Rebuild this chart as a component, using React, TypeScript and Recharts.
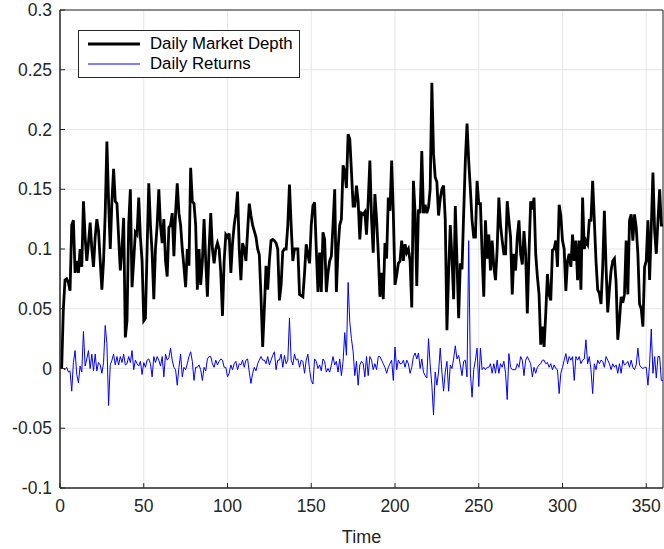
import { CartesianGrid, Line, LineChart, ReferenceArea, XAxis, YAxis } from "recharts";

const depth = [
  0, 0.05, 0.074, 0.075, 0.072, 0.065, 0.12, 0.124, 0.08, 0.09,
  0.08, 0.1, 0.085, 0.14, 0.11, 0.09, 0.105, 0.122, 0.1, 0.085,
  0.11, 0.125, 0.115, 0.09, 0.066, 0.09, 0.13, 0.19, 0.14, 0.1,
  0.14, 0.167, 0.14, 0.138, 0.11, 0.082, 0.1, 0.126, 0.026, 0.04,
  0.12, 0.15, 0.068, 0.09, 0.114, 0.112, 0.143, 0.11, 0.09, 0.04,
  0.042, 0.1, 0.155, 0.12, 0.097, 0.058, 0.1, 0.12, 0.15, 0.12,
  0.105, 0.125, 0.09, 0.077, 0.118, 0.12, 0.13, 0.094, 0.13, 0.155,
  0.13, 0.12, 0.1, 0.085, 0.068, 0.1, 0.086, 0.168, 0.14, 0.138,
  0.12, 0.066, 0.1, 0.07, 0.09, 0.125, 0.09, 0.06, 0.1, 0.13,
  0.1, 0.088, 0.1, 0.105, 0.1, 0.08, 0.044, 0.09, 0.112, 0.11,
  0.113, 0.08, 0.105, 0.12, 0.13, 0.148, 0.1, 0.074, 0.105, 0.1,
  0.09, 0.115, 0.138, 0.128, 0.12, 0.115, 0.11, 0.1, 0.095, 0.06,
  0.018, 0.05, 0.086, 0.066, 0.09, 0.107, 0.108, 0.107, 0.105, 0.1,
  0.057, 0.07, 0.098, 0.1, 0.1, 0.12, 0.154, 0.12, 0.09, 0.1,
  0.1, 0.1, 0.062, 0.061, 0.06, 0.08, 0.104, 0.095, 0.088, 0.12,
  0.136, 0.139, 0.1, 0.064, 0.097, 0.064, 0.114, 0.108, 0.064, 0.08,
  0.09, 0.094, 0.12, 0.15, 0.064, 0.1, 0.12, 0.125, 0.17, 0.165,
  0.151, 0.196, 0.192, 0.165, 0.136, 0.136, 0.153, 0.14, 0.108, 0.13,
  0.129, 0.131, 0.112, 0.14, 0.174, 0.125, 0.097, 0.146, 0.125, 0.097,
  0.06, 0.08, 0.058, 0.105, 0.092, 0.143, 0.132, 0.174, 0.13, 0.07,
  0.078, 0.088, 0.09, 0.107, 0.09, 0.104, 0.097, 0.1, 0.09, 0.051,
  0.157, 0.13, 0.069, 0.133, 0.13, 0.182, 0.13, 0.137, 0.13, 0.135,
  0.15, 0.239, 0.18, 0.16, 0.156, 0.128, 0.142, 0.15, 0.153, 0.125,
  0.032, 0.08, 0.12, 0.093, 0.058, 0.136, 0.09, 0.042, 0.088, 0.083,
  0.13, 0.174, 0.205, 0.174, 0.15, 0.124, 0.11, 0.11, 0.157, 0.138,
  0.138, 0.096, 0.06, 0.124, 0.092, 0.112, 0.082, 0.107, 0.085, 0.074,
  0.1, 0.143, 0.12, 0.107, 0.096, 0.096, 0.14, 0.124, 0.11, 0.062,
  0.096, 0.082, 0.11, 0.124, 0.096, 0.087, 0.115, 0.096, 0.046, 0.096,
  0.14, 0.133, 0.143, 0.096, 0.077, 0.062, 0.02, 0.035, 0.018, 0.046,
  0.079, 0.062, 0.057, 0.099, 0.1, 0.107, 0.085, 0.137, 0.128, 0.107,
  0.1, 0.065, 0.09, 0.096, 0.085, 0.112, 0.09, 0.107, 0.074, 0.107,
  0.066, 0.143, 0.1, 0.107, 0.104, 0.124, 0.124, 0.157, 0.124, 0.09,
  0.066, 0.063, 0.054, 0.085, 0.132, 0.085, 0.047, 0.066, 0.082, 0.09,
  0.092, 0.072, 0.024, 0.04, 0.06, 0.055, 0.062, 0.107, 0.062, 0.124,
  0.129, 0.107, 0.129, 0.118, 0.096, 0.054, 0.05, 0.035, 0.085, 0.09,
  0.124, 0.074, 0.118, 0.164, 0.115, 0.096, 0.124, 0.15, 0.12, 0.12,
];

const returns = [
  0, 0, -0.001, 0.001, -0.003, -0.002, -0.019, 0.005, 0.015, -0.005,
  -0.012, 0.002, -0.003, 0.031, 0.002, 0.008, 0.015, 0, 0.012, -0.002,
  0.012, -0.002, 0.005, 0.003, -0.004, 0.005, 0.036, 0.021, -0.031, 0.003,
  0.007, 0.012, 0.003, 0.01, 0.003, 0.01, 0.005, 0.012, 0.003, 0.004,
  0.01, 0.005, 0.015, -0.001, 0.007, 0.004, 0.002, 0.006, -0.005, 0.005,
  0.001, 0.007, 0.008, 0.004, -0.007, 0.01, 0.005, 0.01, 0.007, 0.002,
  0.01, -0.007, 0.012, 0.007, 0.009, 0.017, 0.007, 0.001, -0.001, -0.014,
  0.001, 0.012, -0.007, 0.001, -0.001, 0.004, 0.01, 0.014, 0.006, -0.01,
  0.001, 0.001, 0.003, -0.001, -0.01, 0.001, -0.002, 0.008, 0.01, 0.01,
  0.004, 0.001, 0.007, 0.003, 0.006, 0.008, 0.007, 0.001, 0.001, -0.007,
  -0.004, 0.003, -0.001, 0.004, 0.006, -0.001, 0.004, 0.003, 0.007, 0.001,
  0.007, 0.008, -0.003, -0.0125, -0.004, 0.001, -0.002, 0.004, 0.007, 0.01,
  0.007, 0.007, 0.004, 0.01, 0.003, 0.007, 0.011, 0.014, -0.001, 0.007,
  0.007, 0.012, 0.001, 0.011, 0.004, 0.007, 0.042, 0.007, 0.003, 0.012,
  0.007, 0.008, 0.001, 0.007, 0.006, -0.004, 0.007, 0.012, -0.001, -0.01,
  -0.013, 0.008, 0.006, 0, 0.003, -0.002, 0.008, 0.006, -0.003, 0,
  -0.003, 0.003, 0.01, 0.003, 0.006, -0.003, 0.008, -0.006, 0.006, 0.03,
  0.011, 0.072, 0.039, 0.025, 0.014, -0.006, 0.006, -0.014, 0.003, 0.006,
  0.004, -0.007, 0.01, -0.006, 0.01, 0.007, -0.001, 0.004, -0.001, 0.01,
  0.01, 0.007, 0.004, 0.001, -0.004, 0.001, 0.004, 0.007, -0.01, 0.018,
  -0.001, 0.007, 0.004, 0.004, 0.007, 0.001, 0.007, 0.004, -0.004, 0.001,
  0.01, 0.013, 0.008, 0.013, 0, 0.008, -0.003, -0.006, -0.008, 0.025,
  0.003, -0.014, -0.039, -0.003, -0.014, -0.003, 0.017, -0.003, -0.019, -0.003,
  0.006, -0.019, 0.003, 0, 0.008, 0.019, 0.008, 0.011, 0.003, -0.006,
  0.006, 0.007, -0.007, 0.107, -0.004, -0.024, -0.001, 0.007, 0.017, -0.015,
  0.017, -0.001, 0.001, -0.001, 0.001, 0.001, 0.004, -0.004, 0.004, -0.004,
  0.007, -0.004, 0.004, 0.001, 0.006, -0.004, -0.026, 0.0125, 0.001, -0.001,
  -0.001, -0.001, 0.004, 0.001, 0.01, 0.007, -0.006, 0.007, 0.01, 0.007,
  0.004, -0.007, 0.001, -0.004, 0.001, 0.003, 0.004, 0.007, 0.007, 0.004,
  0.005, 0.001, 0.004, -0.001, 0.003, 0, -0.001, -0.021, -0.004, 0.001,
  0.007, 0.0125, 0.004, 0.01, 0.007, 0.01, -0.01, 0.01, 0.007, 0.01,
  0.004, 0.007, 0.008, 0.024, 0.004, 0.01, -0.001, -0.021, 0.004, -0.001,
  0.007, 0.004, 0.007, 0.006, 0.001, 0.01, 0.007, 0.004, -0.001, 0.004,
  0.001, 0.003, -0.004, 0.004, -0.004, 0.007, 0.003, 0.004, 0.006, 0.001,
  0.007, 0.001, -0.001, 0.003, 0.017, 0.003, 0.001, 0, 0.001, 0.001,
  -0.014, 0.004, 0.033, -0.004, 0.01, -0.008, 0.01, 0.01, -0.01, -0.01,
];

const xTicks = [0, 50, 100, 150, 200, 250, 300, 350];
const yTicks = [-0.1, -0.05, 0, 0.05, 0.1, 0.15, 0.2, 0.25, 0.3];

const data = depth.map((d, i) => ({ day: i + 1, depth: d, returns: returns[i] }));

const font = "'Liberation Sans', Arial, sans-serif";
const axisColor = "#262626";
const tickStyle = { fontSize: 17.5, fill: axisColor, fontFamily: font };

const legendRows = [
  { label: "Daily Market Depth", color: "#000000", width: 3 },
  { label: "Daily Returns", color: "#0000ff", width: 1 },
];

function LegendBox() {
  return (
    <div style={{ position: "absolute", left: 78, top: 30, width: 222, height: 48, boxSizing: "border-box", border: `1px solid ${axisColor}`, background: "#fff", padding: "3px 0 0 9px", fontFamily: font, fontSize: 16.8, color: "#000", lineHeight: "20px" }}>
      {legendRows.map((r) => (
        <div key={r.label} style={{ display: "flex", alignItems: "center", height: 20 }}>
          <svg width={52} height={10} style={{ marginRight: 10, flex: "none" }}>
            <line x1={0} x2={52} y1={5} y2={5} stroke={r.color} strokeWidth={r.width} />
          </svg>
          <span style={{ whiteSpace: "nowrap" }}>{r.label}</span>
        </div>
      ))}
    </div>
  );
}

export default function App() {
  return (
    <div style={{ position: "relative", width: 664, height: 549 }}>
      <style>{"body{margin:0;background:#fff}"}</style>
      <LineChart width={664} height={549} data={data} margin={{ top: 10, right: 1, left: 0, bottom: 0 }}>
        <CartesianGrid stroke="#e6e6e6" strokeWidth={1} />
        <XAxis dataKey="day" type="number" domain={[0, 360]} ticks={xTicks} interval={0}
          tickSize={-5} tickMargin={17} stroke={axisColor} tick={tickStyle} height={61}
          label={{ value: "Time", position: "insideBottom", offset: 6, fill: axisColor, fontSize: 18, fontFamily: font }} />
        <XAxis xAxisId="top" orientation="top" type="number" domain={[0, 360]} ticks={xTicks} interval={0}
          tickSize={-5} height={0} stroke={axisColor} tickFormatter={() => ""} />
        <YAxis type="number" domain={[-0.1, 0.3]} ticks={yTicks} interval={0} width={60}
          tickSize={-5} tickMargin={13} stroke={axisColor} tick={tickStyle} tickFormatter={(v) => String(v)} />
        <YAxis yAxisId="right" orientation="right" type="number" domain={[-0.1, 0.3]} ticks={yTicks} interval={0}
          width={0} tickSize={-5} stroke={axisColor} tickFormatter={() => ""} />
        <Line dataKey="depth" stroke="#000000" strokeWidth={2.8} dot={false} isAnimationActive={false} />
        <Line dataKey="returns" stroke="#0000ff" strokeWidth={1} dot={false} isAnimationActive={false} />
        <ReferenceArea x1={0} x2={360} y1={-0.1} y2={0.3} fill="none" stroke={axisColor} strokeWidth={1} ifOverflow="visible" />
      </LineChart>
      <LegendBox />
    </div>
  );
}
